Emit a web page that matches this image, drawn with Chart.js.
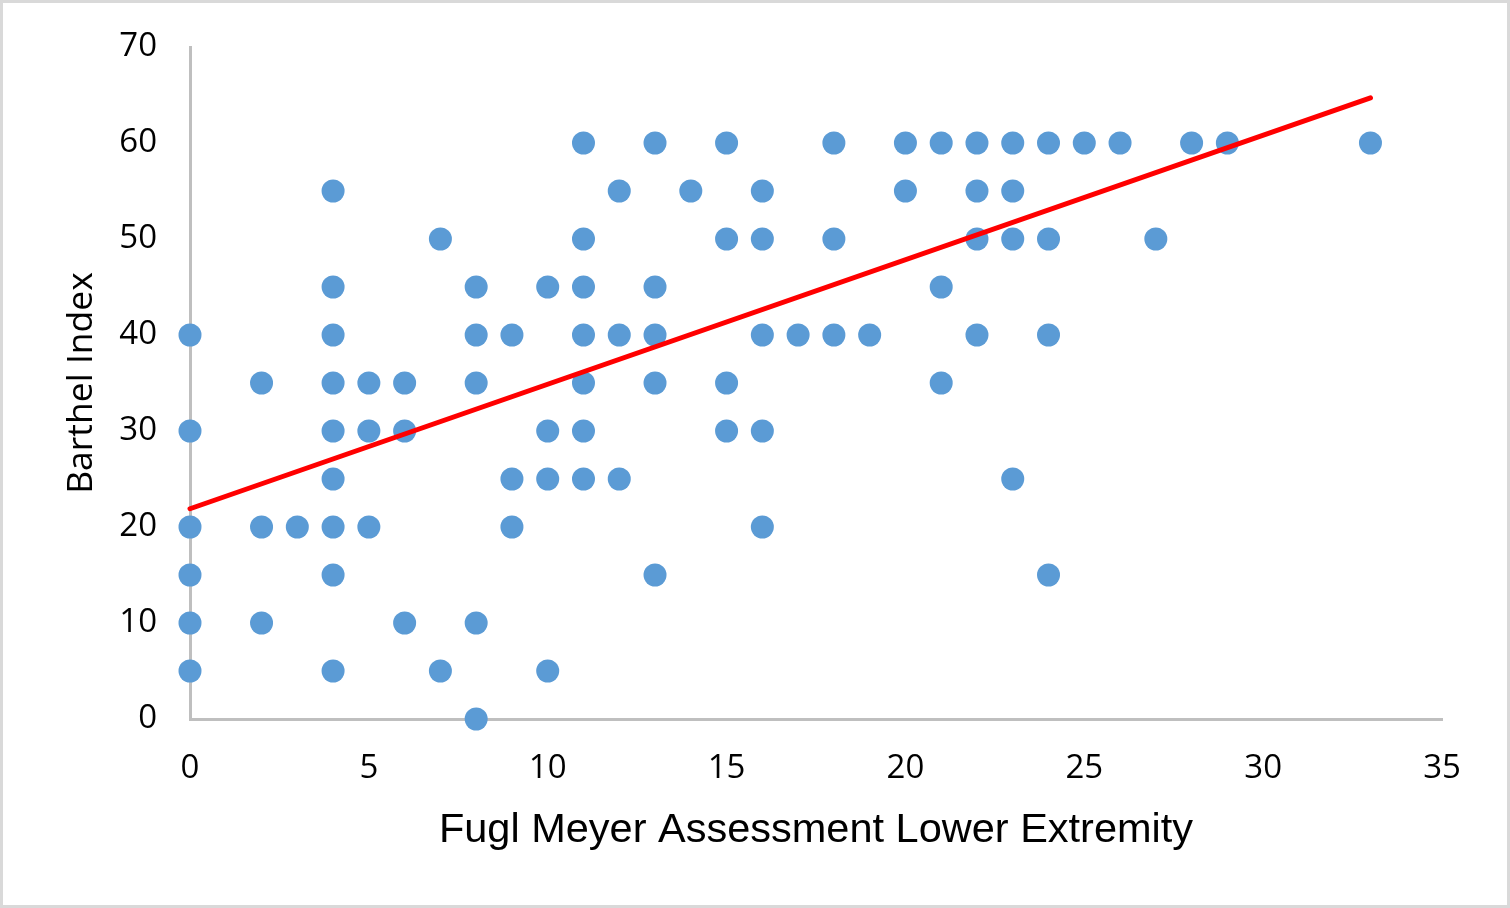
<!DOCTYPE html>
<html>
<head>
<meta charset="utf-8">
<script src="https://cdn.jsdelivr.net/npm/chart.js@4.4.1/dist/chart.umd.min.js"></script>
<style>
  html, body { margin: 0; padding: 0; background: #fff; }
  #frame { width: 1510px; height: 908px; box-sizing: border-box; border: 3px solid #d9d9d9; }
  canvas { display: block; }
</style>
</head>
<body>
<div id="frame"><canvas id="scatter_chart" width="1504" height="902"></canvas></div>
<script>
// Fugl Meyer Assessment Lower Extremity score of each patient
var fmaLowerExtremity = [
    0, 0, 0, 0, 0, 0,
    2, 2, 2,
    3,
    4, 4, 4, 4, 4, 4, 4, 4, 4,
    5, 5, 5,
    6, 6, 6,
    7, 7,
    8, 8, 8, 8, 8,
    9, 9, 9,
    10, 10, 10, 10,
    11, 11, 11, 11, 11, 11, 11,
    12, 12, 12,
    13, 13, 13, 13, 13,
    14,
    15, 15, 15, 15,
    16, 16, 16, 16, 16,
    17,
    18, 18, 18,
    19,
    20, 20,
    21, 21, 21,
    22, 22, 22, 22,
    23, 23, 23, 23,
    24, 24, 24, 24,
    25, 26, 27, 28, 29, 33
];

// Barthel Index of the same patients, in the same order
var barthelIndex = [
    40, 30, 20, 15, 10, 5,
    35, 20, 10,
    20,
    55, 45, 40, 35, 30, 25, 20, 15, 5,
    35, 30, 20,
    35, 30, 10,
    50, 5,
    45, 40, 35, 10, 0,
    40, 25, 20,
    45, 30, 25, 5,
    60, 50, 45, 40, 35, 30, 25,
    55, 40, 25,
    60, 45, 40, 35, 15,
    55,
    60, 50, 35, 30,
    55, 50, 40, 30, 20,
    40,
    60, 50, 40,
    40,
    60, 55,
    60, 45, 35,
    60, 55, 50, 40,
    60, 55, 50, 25,
    60, 50, 40, 15,
    60, 60, 50, 60, 60, 60
];

// Ends of the linear trendline
var trendX = [0, 33];
var trendY = [21.9, 64.7];

var xTicks = [0, 5, 10, 15, 20, 25, 30, 35];
var yTicks = [0, 10, 20, 30, 40, 50, 60, 70];

var points = [];
for (var i = 0; i < fmaLowerExtremity.length; i++) {
    points.push({x: fmaLowerExtremity[i], y: barthelIndex[i]});
}
var trendPoints = [];
for (var j = 0; j < trendX.length; j++) {
    trendPoints.push({x: trendX[j], y: trendY[j]});
}

var tickFont = "'Open Sans', 'Noto Sans', sans-serif";
var xTitleFont = "'Liberation Sans', Arial, sans-serif";

var ctx = document.getElementById("scatter_chart").getContext('2d');
var chart = new Chart(ctx, {
    type: 'scatter',
    data: {
        datasets: [{
            label: "Trendline",
            type: 'line',
            data: trendPoints,
            borderColor: '#ff0000',
            borderWidth: 5,
            borderCapStyle: 'round',
            pointRadius: 0,
            fill: false,
            clip: false,
            order: 0
        }, {
            label: "Barthel Index",
            data: points,
            backgroundColor: '#5b9bd5',
            borderWidth: 0,
            pointRadius: 11.5,
            pointHoverRadius: 11.5,
            clip: false,
            order: 1
        }]
    },
    options: {
        responsive: false,
        animation: false,
        events: [],
        layout: {padding: {left: 0, top: 44, right: 65, bottom: 0}},
        plugins: {legend: {display: false}, tooltip: {enabled: false}},
        scales: {
            x: {
                type: 'linear',
                min: 0,
                max: 35,
                afterBuildTicks: function (scale) {
                    scale.ticks = xTicks.map(function (v) { return {value: v}; });
                },
                afterFit: function (scale) { scale.height = 186; },
                grid: {display: false},
                border: {display: true, color: '#bfbfbf', width: 3},
                ticks: {color: '#000', padding: 22, font: {family: tickFont, size: 33}, maxRotation: 0},
                title: {
                    display: true,
                    text: 'Fugl Meyer Assessment Lower Extremity',
                    color: '#000',
                    font: {family: xTitleFont, size: 41.5},
                    padding: {top: 0, bottom: 50}
                }
            },
            y: {
                type: 'linear',
                min: 0,
                max: 70,
                afterBuildTicks: function (scale) {
                    scale.ticks = yTicks.map(function (v) { return {value: v}; });
                },
                afterFit: function (scale) {
                    scale.width = 187;
                    // keep the tick padding from pushing the plot area down
                    scale.paddingTop = 0;
                    scale.paddingBottom = 0;
                },
                grid: {display: false},
                border: {display: true, color: '#bfbfbf', width: 3},
                ticks: {color: '#000', padding: 25, font: {family: tickFont, size: 33}},
                title: {
                    display: true,
                    text: 'Barthel Index',
                    color: '#000',
                    font: {family: tickFont, size: 35.5},
                    padding: {top: 58, bottom: 0}
                }
            }
        }
    }
});
</script>
</body>
</html>
